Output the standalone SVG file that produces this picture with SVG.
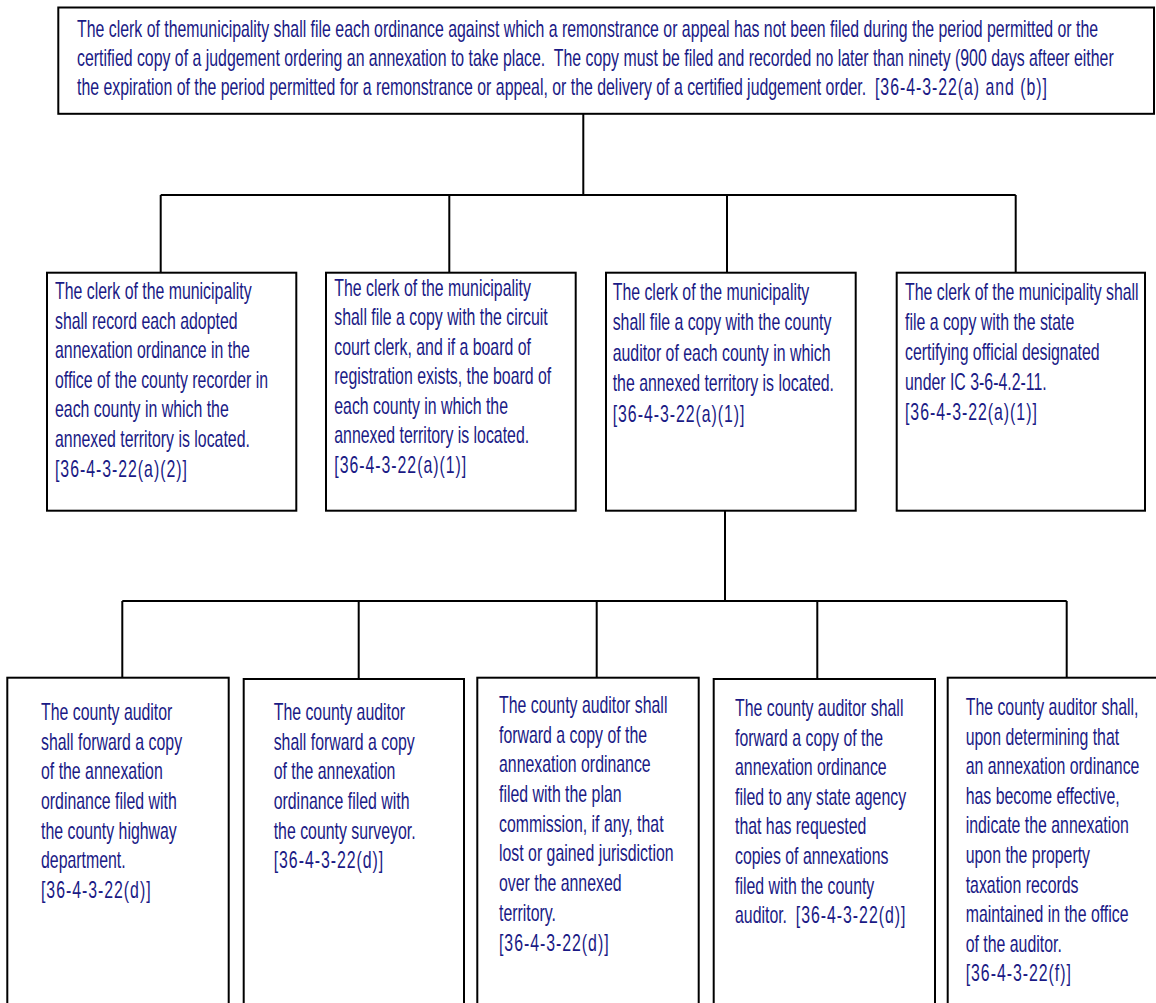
<svg xmlns="http://www.w3.org/2000/svg" width="1156" height="1003" viewBox="0 0 1156 1003">
<style>
.box{fill:#ffffff;stroke:#000000;stroke-width:2}
.conn{fill:none;stroke:#000000;stroke-width:2}
text{font-family:"Liberation Sans",Arial,sans-serif;font-size:23px;fill:#1a1a85;white-space:pre;transform-box:fill-box;transform-origin:0 0;transform:scaleX(0.69)}
.cite{letter-spacing:1.4px}
</style>
<rect width="1156" height="1003" fill="#ffffff"/>
<g id="connectors">
<path class="conn" d="M583.3,114 V195 M160.7,195 H1015.7 M160.7,195 V273 M449.3,195 V273 M727,195 V273 M1015.7,195 V273"/>
<path class="conn" d="M725,511 V601 M122.3,601 H1066.7 M122.3,601 V678 M358.7,601 V678 M596.7,601 V678 M817.3,601 V678 M1066.7,601 V678"/>
</g>
<g id="top">
<rect class="box" x="58.3" y="7.5" width="1095.7" height="106.3"/>
<text x="77" y="37">The clerk of themunicipality shall file each ordinance against which a remonstrance or appeal has not been filed during the period permitted or the</text>
<text x="77" y="66">certified copy of a judgement ordering an annexation to take place.  The copy must be filed and recorded no later than ninety (900 days afteer either</text>
<text x="77" y="95">the expiration of the period permitted for a remonstrance or appeal, or the delivery of a certified judgement order.  <tspan class="cite">[36-4-3-22(a) and (b)]</tspan></text>
</g>
<g id="l1a">
<rect class="box" x="47" y="272.7" width="249.3" height="238"/>
<text x="55" y="299">The clerk of the municipality</text>
<text x="55" y="328.6">shall record each adopted</text>
<text x="55" y="358.2">annexation ordinance in the</text>
<text x="55" y="387.8">office of the county recorder in</text>
<text x="55" y="417.4">each county in which the</text>
<text x="55" y="447">annexed territory is located.</text>
<text x="55" y="476.6" class="cite">[36-4-3-22(a)(2)]</text>
</g>
<g id="l1b">
<rect class="box" x="326" y="272.7" width="249.7" height="238"/>
<text x="334.3" y="296">The clerk of the municipality</text>
<text x="334.3" y="325.5">shall file a copy with the circuit</text>
<text x="334.3" y="355">court clerk, and if a board of</text>
<text x="334.3" y="384.5">registration exists, the board of</text>
<text x="334.3" y="414">each county in which the</text>
<text x="334.3" y="443.5">annexed territory is located.</text>
<text x="334.3" y="473" class="cite">[36-4-3-22(a)(1)]</text>
</g>
<g id="l1c">
<rect class="box" x="606" y="272.7" width="249.7" height="238"/>
<text x="612.7" y="300">The clerk of the municipality</text>
<text x="612.7" y="330.5">shall file a copy with the county</text>
<text x="612.7" y="361">auditor of each county in which</text>
<text x="612.7" y="391.5">the annexed territory is located.</text>
<text x="612.7" y="422" class="cite">[36-4-3-22(a)(1)]</text>
</g>
<g id="l1d">
<rect class="box" x="896.7" y="272.7" width="248.3" height="238"/>
<text x="905" y="300">The clerk of the municipality shall</text>
<text x="905" y="330">file a copy with the state</text>
<text x="905" y="360">certifying official designated</text>
<text x="905" y="390">under IC 3-6-4.2-11.</text>
<text x="905" y="420" class="cite">[36-4-3-22(a)(1)]</text>
</g>
<g id="l2a">
<rect class="box" x="7.3" y="677.7" width="221.4" height="340"/>
<text x="41" y="720">The county auditor</text>
<text x="41" y="749.7">shall forward a copy</text>
<text x="41" y="779.4">of the annexation</text>
<text x="41" y="809.1">ordinance filed with</text>
<text x="41" y="838.8">the county highway</text>
<text x="41" y="868.5">department.</text>
<text x="41" y="898.2" class="cite">[36-4-3-22(d)]</text>
</g>
<g id="l2b">
<rect class="box" x="243.7" y="679" width="220.3" height="340"/>
<text x="273.7" y="720">The county auditor</text>
<text x="273.7" y="749.7">shall forward a copy</text>
<text x="273.7" y="779.4">of the annexation</text>
<text x="273.7" y="809.1">ordinance filed with</text>
<text x="273.7" y="838.8">the county surveyor.</text>
<text x="273.7" y="868.5" class="cite">[36-4-3-22(d)]</text>
</g>
<g id="l2c">
<rect class="box" x="477.3" y="677.7" width="221.4" height="340"/>
<text x="499" y="713">The county auditor shall</text>
<text x="499" y="742.7">forward a copy of the</text>
<text x="499" y="772.4">annexation ordinance</text>
<text x="499" y="802.1">filed with the plan</text>
<text x="499" y="831.8">commission, if any, that</text>
<text x="499" y="861.5">lost or gained jurisdiction</text>
<text x="499" y="891.2">over the annexed</text>
<text x="499" y="920.9">territory.</text>
<text x="499" y="950.6" class="cite">[36-4-3-22(d)]</text>
</g>
<g id="l2d">
<rect class="box" x="713.7" y="679" width="221.3" height="340"/>
<text x="735" y="716">The county auditor shall</text>
<text x="735" y="745.6">forward a copy of the</text>
<text x="735" y="775.2">annexation ordinance</text>
<text x="735" y="804.8">filed to any state agency</text>
<text x="735" y="834.4">that has requested</text>
<text x="735" y="864">copies of annexations</text>
<text x="735" y="893.6">filed with the county</text>
<text x="735" y="923.2">auditor.  <tspan class="cite">[36-4-3-22(d)]</tspan></text>
</g>
<g id="l2e">
<rect class="box" x="947.7" y="677.7" width="230" height="340"/>
<text x="965.7" y="715">The county auditor shall,</text>
<text x="965.7" y="744.6">upon determining that</text>
<text x="965.7" y="774.2">an annexation ordinance</text>
<text x="965.7" y="803.8">has become effective,</text>
<text x="965.7" y="833.4">indicate the annexation</text>
<text x="965.7" y="863">upon the property</text>
<text x="965.7" y="892.6">taxation records</text>
<text x="965.7" y="922.2">maintained in the office</text>
<text x="965.7" y="951.8">of the auditor.</text>
<text x="965.7" y="981.4" class="cite">[36-4-3-22(f)]</text>
</g>
</svg>
